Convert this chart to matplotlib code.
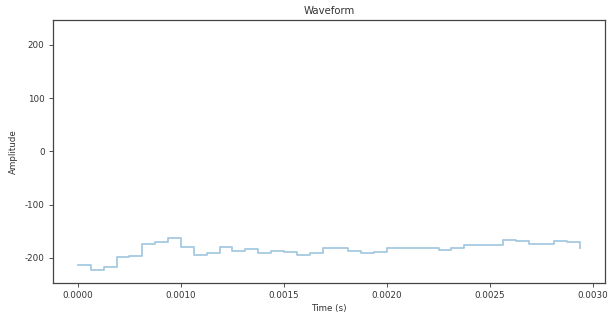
import numpy as np
import matplotlib
matplotlib.use("Agg")
import matplotlib.pyplot as plt

plt.rcParams['font.family'] = ['DejaVu Sans']
plt.rcParams['axes.unicode_minus'] = False

# 16 kHz samples, sample-and-hold view
sr = 16000
amp = [-214, -222, -217, -199, -197, -174, -170, -163, -179, -195,
       -191, -180, -186, -183, -191, -187, -189, -195, -191, -181,
       -182, -187, -191, -189, -181, -181, -181, -181, -185, -182,
       -175, -175, -175, -167, -169, -173, -173, -168, -170, -181]
t = np.arange(len(amp)) / sr

tick_pos = [0.0, 0.0005, 0.0010, 0.0015, 0.0020, 0.0025]
tick_lab = ['0.0000', '0.0010', '0.0015', '0.0020', '0.0025', '0.0030']

fig = plt.figure(figsize=(6.11, 3.15), dpi=100)
ax = fig.add_axes([0.0867, 0.1016, 0.9035, 0.835])
ax.step(t, amp, where='post', color='#1f77b4', alpha=0.4, lw=1.3)

ax.set_xlim(-0.000121, 0.002558)
ax.set_ylim(-247, 247)
ax.set_xticks(tick_pos)
ax.set_xticklabels(tick_lab)
ax.set_yticks([-200, -100, 0, 100, 200])

for s in ax.spines.values():
    s.set_color('#444444')
    s.set_linewidth(0.9)
ax.tick_params(labelsize=6.3, colors='#333333', length=3, width=0.6, pad=3)

ax.set_title('Waveform', fontsize=7.3, color='#333333', pad=4)
ax.set_xlabel('Time (s)', fontsize=6.3, color='#333333', labelpad=3)
ax.set_ylabel('Amplitude', fontsize=6.3, color='#333333', labelpad=5)

fig.savefig('out.png', dpi=100)
